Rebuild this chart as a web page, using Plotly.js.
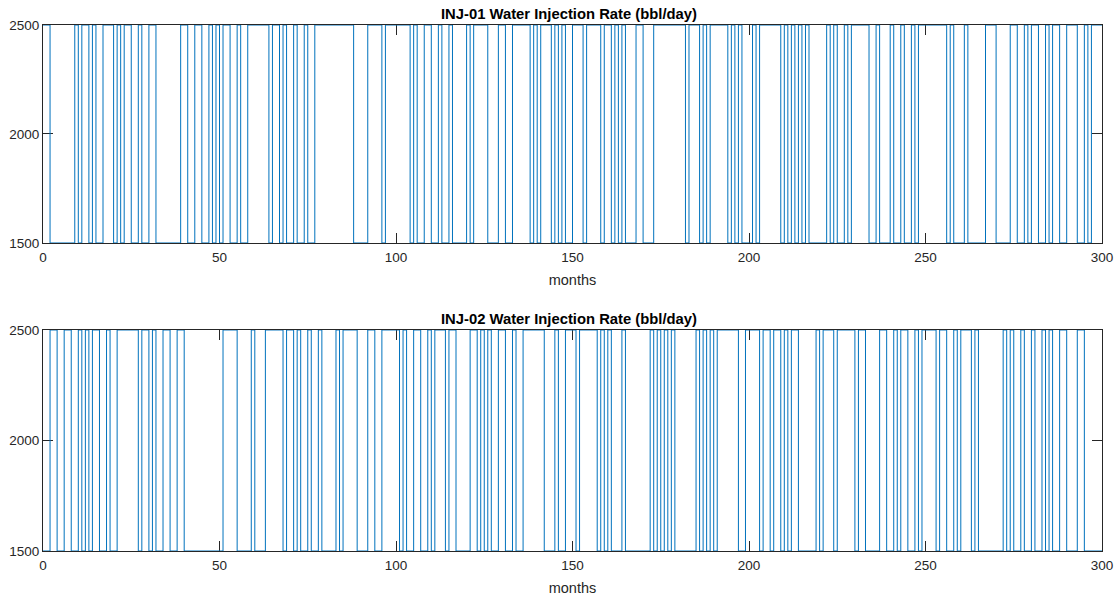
<!DOCTYPE html>
<html>
<head>
<meta charset="utf-8">
<script src="https://cdn.plot.ly/plotly-3.0.1.min.js"></script>
<style>
  html, body { margin: 0; padding: 0; background: #fff; }
  #chart { width: 1119px; height: 598px; }
</style>
</head>
<body>
<div id="chart"></div>
<script>
// Injection schedule: each well switches between two rates; the arrays hold
// the months at which the rate changes, starting from the first rate given.
const rateLow = 1500;
const rateHigh = 2500;
const horizonMonths = 300;

const inj01StartRate = 2500;
const inj01SwitchMonths = [2, 9, 10, 11, 13, 14, 15, 17, 20, 21, 22, 23, 25, 27, 28, 30, 32, 39, 41, 43,
  45, 47, 48, 49, 50, 51, 53, 55, 56, 58, 64, 65, 67, 68, 69, 71, 72, 74, 75, 77, 88, 92, 96, 97,
  104, 105, 106, 108, 110, 112, 113, 115, 116, 120, 121, 122, 126, 129, 131, 133, 138, 139, 140, 141,
  144, 145, 146, 147, 148, 150, 153, 154, 158, 159, 161, 162, 163, 164, 165, 168, 170, 173, 182, 183,
  186, 187, 188, 189, 194, 195, 196, 197, 198, 201, 202, 203, 209, 210, 211, 212, 213, 214, 215, 216,
  217, 222, 223, 224, 225, 227, 228, 229, 234, 236, 237, 240, 241, 243, 244, 246, 247, 248, 256, 257,
  258, 261, 262, 267, 270, 274, 276, 278, 279, 280, 282, 284, 285, 286, 288, 290, 293, 295, 296, 297];

const inj02StartRate = 1500;
const inj02SwitchMonths = [2, 4, 6, 8, 10, 11, 12, 13, 14, 16, 18, 19, 21, 27, 28, 30, 31, 32, 34, 36,
  38, 40, 51, 55, 59, 60, 63, 68, 69, 71, 72, 73, 75, 76, 78, 79, 83, 84, 85, 89, 92, 94, 96, 101,
  102, 103, 105, 107, 109, 110, 111, 114, 115, 117, 121, 123, 124, 125, 126, 127, 129, 131, 133, 134,
  136, 142, 145, 146, 148, 151, 152, 157, 158, 159, 160, 161, 164, 165, 172, 173, 174, 175, 176, 177,
  178, 179, 185, 186, 187, 188, 189, 190, 191, 197, 199, 203, 204, 206, 207, 209, 210, 211, 212, 214,
  219, 220, 221, 224, 225, 230, 231, 233, 237, 239, 241, 242, 243, 245, 247, 248, 249, 253, 254, 256,
  258, 259, 260, 263, 264, 265, 272, 273, 274, 275, 277, 278, 280, 281, 283, 284, 285, 286, 288, 290,
  293, 295];

const xTicks = [0, 50, 100, 150, 200, 250, 300];
const yTicks = [1500, 2000, 2500];

// Turn a start rate plus switch months into a step series (drawn with shape 'hv').
function stepSeries(startRate, switches) {
  const x = [0];
  const y = [startRate];
  let rate = startRate;
  for (const m of switches) {
    rate = rate === rateHigh ? rateLow : rateHigh;
    x.push(m);
    y.push(rate);
  }
  x.push(horizonMonths);
  y.push(rate);
  return { x, y };
}

const s1 = stepSeries(inj01StartRate, inj01SwitchMonths);
const s2 = stepSeries(inj02StartRate, inj02SwitchMonths);

const fontFamily = 'Liberation Sans, Arial, Helvetica, sans-serif';
const lineStyle = { color: '#0072BD', width: 1, shape: 'hv' };
const axisColor = '#262626';
const tickFont = { family: fontFamily, size: 13.5, color: axisColor };

function xAxis(anchor) {
  return {
    anchor: anchor,
    range: [0, horizonMonths],
    tickvals: xTicks,
    ticktext: xTicks.map(String),
    ticks: 'inside',
    ticklen: 10,
    tickwidth: 1,
    tickcolor: axisColor,
    showline: true,
    linecolor: axisColor,
    linewidth: 1,
    mirror: 'ticks',
    showgrid: false,
    zeroline: false,
    tickfont: tickFont,
    ticklabelstandoff: 2,
    layer: 'below traces',
    title: { text: 'months', font: { family: fontFamily, size: 14.5, color: axisColor }, standoff: 10 }
  };
}

function yAxis(anchor, domain) {
  return {
    anchor: anchor,
    domain: domain,
    range: [rateLow, rateHigh],
    tickvals: yTicks,
    ticktext: yTicks.map(String),
    ticks: 'inside',
    ticklen: 10,
    tickwidth: 1,
    tickcolor: axisColor,
    showline: true,
    linecolor: axisColor,
    linewidth: 1,
    mirror: 'ticks',
    showgrid: false,
    zeroline: false,
    tickfont: tickFont,
    layer: 'below traces'
  };
}

const traces = [
  { x: s1.x, y: s1.y, type: 'scatter', mode: 'lines', line: lineStyle, xaxis: 'x', yaxis: 'y', hoverinfo: 'x+y' },
  { x: s2.x, y: s2.y, type: 'scatter', mode: 'lines', line: lineStyle, xaxis: 'x2', yaxis: 'y2', hoverinfo: 'x+y' }
];

const topDomain = [0.5856, 1];
const bottomDomain = [0, 0.4202];
const titleFont = { family: fontFamily, size: 14.8, color: '#000' };

const layout = {
  width: 1119,
  height: 598,
  margin: { l: 43, r: 17, t: 25, b: 47 },
  paper_bgcolor: '#fff',
  plot_bgcolor: '#fff',
  showlegend: false,
  xaxis: xAxis('y'),
  yaxis: yAxis('x', topDomain),
  xaxis2: xAxis('y2'),
  yaxis2: yAxis('x2', bottomDomain),
  annotations: [
    { text: '<b>INJ-01 Water Injection Rate (bbl/day)</b>', xref: 'paper', yref: 'paper', x: 0.497, y: topDomain[1],
      xanchor: 'center', yanchor: 'bottom', yshift: 1, showarrow: false, font: titleFont },
    { text: '<b>INJ-02 Water Injection Rate (bbl/day)</b>', xref: 'paper', yref: 'paper', x: 0.497, y: bottomDomain[1],
      xanchor: 'center', yanchor: 'bottom', yshift: 1, showarrow: false, font: titleFont }
  ]
};

Plotly.newPlot('chart', traces, layout, { displayModeBar: false, staticPlot: true });
</script>
</body>
</html>
